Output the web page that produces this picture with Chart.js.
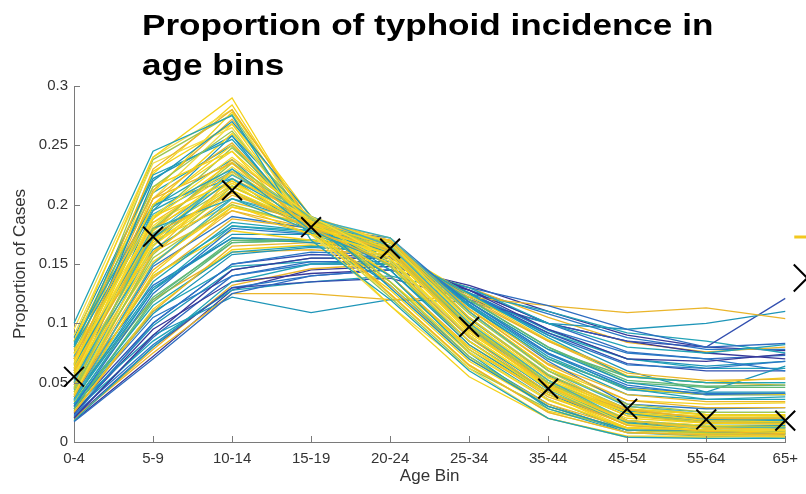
<!DOCTYPE html>
<html>
<head>
<meta charset="utf-8">
<script src="https://cdn.jsdelivr.net/npm/chart.js@4.4.1/dist/chart.umd.min.js"></script>
<style>
  html, body { margin: 0; padding: 0; background: #fff; overflow: hidden; }
  #wrap { position: relative; width: 806px; height: 494px; }
  #chartTitle {
    position: absolute; left: 142px; top: 5px;
    font: bold 30px "Liberation Sans", Arial, sans-serif; line-height: 40px;
    color: #000; white-space: nowrap;
    transform: scaleX(1.17); transform-origin: 0 0;
  }
</style>
</head>
<body>
<div id="wrap">
  <canvas id="ageChart" width="806" height="494"></canvas>
  <div id="chartTitle">Proportion of typhoid incidence in<br>age bins</div>
</div>
<script>
  // age bins on the x axis
  var ageBins = ["0-4", "5-9", "10-14", "15-19", "20-24", "25-34", "35-44", "45-54", "55-64", "65+"];

  // y ticks
  var yTicks = [0, 0.05, 0.1, 0.15, 0.2, 0.25, 0.3];
  var yTickLabels = ["0", "0.05", "0.1", "0.15", "0.2", "0.25", "0.3"];

  // the black X markers
  var meanProportion = [0.055, 0.173, 0.212, 0.181, 0.163, 0.097, 0.045, 0.028, 0.019, 0.018];

  var runsUpper = [
    [0.100, 0.245, 0.275, 0.170, 0.120, 0.060, 0.020, 0.004, 0.003, 0.003],
    [0.085, 0.240, 0.290, 0.180, 0.115, 0.055, 0.020, 0.005, 0.005, 0.005],
    [0.070, 0.230, 0.280, 0.185, 0.125, 0.065, 0.025, 0.008, 0.006, 0.006],
    [0.060, 0.220, 0.270, 0.190, 0.130, 0.070, 0.030, 0.010, 0.010, 0.010],
    [0.090, 0.235, 0.265, 0.175, 0.125, 0.065, 0.025, 0.008, 0.006, 0.004],
    [0.075, 0.215, 0.262, 0.185, 0.135, 0.072, 0.030, 0.010, 0.008, 0.008],
    [0.050, 0.210, 0.278, 0.190, 0.135, 0.075, 0.035, 0.012, 0.008, 0.007],
    [0.080, 0.225, 0.255, 0.180, 0.140, 0.075, 0.028, 0.008, 0.005, 0.004],
    [0.085, 0.215, 0.245, 0.175, 0.135, 0.080, 0.040, 0.010, 0.008, 0.007],
    [0.062, 0.205, 0.252, 0.182, 0.140, 0.080, 0.038, 0.015, 0.013, 0.013],
    [0.048, 0.195, 0.258, 0.188, 0.145, 0.082, 0.040, 0.016, 0.014, 0.014],
    [0.095, 0.240, 0.280, 0.175, 0.115, 0.062, 0.020, 0.004, 0.004, 0.005],
    [0.058, 0.188, 0.248, 0.186, 0.148, 0.085, 0.042, 0.017, 0.014, 0.014],
    [0.056, 0.200, 0.260, 0.187, 0.140, 0.078, 0.040, 0.015, 0.012, 0.012],
    [0.072, 0.198, 0.238, 0.180, 0.145, 0.085, 0.042, 0.016, 0.012, 0.012],
    [0.078, 0.228, 0.268, 0.178, 0.128, 0.068, 0.030, 0.010, 0.007, 0.006],
    [0.066, 0.212, 0.272, 0.186, 0.132, 0.070, 0.032, 0.012, 0.009, 0.009],
    [0.088, 0.222, 0.258, 0.176, 0.132, 0.072, 0.032, 0.008, 0.006, 0.006],
    [0.054, 0.205, 0.268, 0.190, 0.140, 0.076, 0.036, 0.012, 0.010, 0.009],
    [0.070, 0.238, 0.276, 0.180, 0.122, 0.062, 0.028, 0.010, 0.007, 0.007],
    [0.060, 0.198, 0.250, 0.188, 0.148, 0.082, 0.042, 0.014, 0.010, 0.008],
    [0.082, 0.210, 0.250, 0.180, 0.140, 0.078, 0.036, 0.010, 0.008, 0.006],
    [0.064, 0.226, 0.284, 0.182, 0.124, 0.064, 0.026, 0.012, 0.009, 0.009]
  ];

  var runsMiddle = [
    [0.065, 0.200, 0.245, 0.185, 0.150, 0.085, 0.040, 0.012, 0.010, 0.008],
    [0.070, 0.205, 0.235, 0.180, 0.150, 0.088, 0.042, 0.014, 0.009, 0.007],
    [0.055, 0.190, 0.240, 0.190, 0.155, 0.090, 0.045, 0.015, 0.010, 0.010],
    [0.080, 0.195, 0.230, 0.178, 0.150, 0.088, 0.045, 0.016, 0.010, 0.008],
    [0.060, 0.185, 0.228, 0.185, 0.160, 0.095, 0.047, 0.018, 0.012, 0.010],
    [0.045, 0.180, 0.235, 0.188, 0.160, 0.098, 0.050, 0.018, 0.013, 0.013],
    [0.075, 0.190, 0.220, 0.182, 0.158, 0.092, 0.048, 0.016, 0.010, 0.009],
    [0.050, 0.175, 0.225, 0.190, 0.165, 0.100, 0.052, 0.018, 0.013, 0.012],
    [0.055, 0.170, 0.215, 0.185, 0.165, 0.100, 0.050, 0.025, 0.018, 0.017],
    [0.060, 0.175, 0.210, 0.180, 0.162, 0.098, 0.048, 0.027, 0.020, 0.020],
    [0.040, 0.165, 0.218, 0.188, 0.168, 0.102, 0.052, 0.025, 0.021, 0.021],
    [0.065, 0.180, 0.205, 0.178, 0.160, 0.097, 0.050, 0.026, 0.020, 0.019],
    [0.050, 0.160, 0.208, 0.185, 0.170, 0.105, 0.055, 0.028, 0.020, 0.019],
    [0.045, 0.155, 0.200, 0.182, 0.168, 0.108, 0.060, 0.032, 0.025, 0.025],
    [0.058, 0.168, 0.212, 0.183, 0.163, 0.100, 0.047, 0.025, 0.022, 0.022],
    [0.035, 0.150, 0.205, 0.188, 0.172, 0.110, 0.060, 0.030, 0.025, 0.025],
    [0.070, 0.170, 0.200, 0.175, 0.160, 0.100, 0.052, 0.028, 0.023, 0.022],
    [0.040, 0.145, 0.195, 0.180, 0.170, 0.112, 0.065, 0.035, 0.029, 0.029],
    [0.068, 0.182, 0.232, 0.186, 0.152, 0.090, 0.045, 0.018, 0.014, 0.013],
    [0.052, 0.172, 0.222, 0.185, 0.160, 0.098, 0.052, 0.024, 0.018, 0.017],
    [0.078, 0.160, 0.195, 0.175, 0.165, 0.110, 0.060, 0.025, 0.017, 0.015],
    [0.042, 0.158, 0.215, 0.185, 0.165, 0.105, 0.057, 0.028, 0.023, 0.022],
    [0.066, 0.178, 0.226, 0.182, 0.157, 0.094, 0.046, 0.020, 0.016, 0.015],
    [0.044, 0.165, 0.230, 0.190, 0.160, 0.095, 0.050, 0.025, 0.020, 0.021],
    [0.062, 0.188, 0.236, 0.184, 0.154, 0.090, 0.046, 0.018, 0.012, 0.010],
    [0.048, 0.178, 0.238, 0.190, 0.160, 0.094, 0.048, 0.018, 0.014, 0.012],
    [0.074, 0.185, 0.218, 0.178, 0.158, 0.096, 0.050, 0.018, 0.012, 0.011],
    [0.056, 0.162, 0.205, 0.184, 0.168, 0.104, 0.056, 0.028, 0.019, 0.018],
    [0.038, 0.160, 0.222, 0.190, 0.168, 0.104, 0.056, 0.024, 0.019, 0.019],
    [0.066, 0.172, 0.212, 0.180, 0.162, 0.100, 0.052, 0.024, 0.016, 0.016],
    [0.050, 0.152, 0.198, 0.182, 0.170, 0.110, 0.062, 0.030, 0.023, 0.023],
    [0.072, 0.192, 0.228, 0.180, 0.154, 0.090, 0.044, 0.018, 0.012, 0.010],
    [0.046, 0.170, 0.228, 0.188, 0.162, 0.098, 0.050, 0.022, 0.018, 0.018],
    [0.058, 0.180, 0.220, 0.182, 0.160, 0.096, 0.050, 0.022, 0.016, 0.016],
    [0.052, 0.166, 0.210, 0.184, 0.166, 0.102, 0.054, 0.026, 0.020, 0.020],
    [0.084, 0.200, 0.222, 0.176, 0.152, 0.090, 0.044, 0.016, 0.009, 0.007],
    [0.042, 0.150, 0.202, 0.186, 0.172, 0.110, 0.062, 0.030, 0.023, 0.023],
    [0.062, 0.176, 0.216, 0.182, 0.160, 0.098, 0.050, 0.024, 0.016, 0.016]
  ];

  var runsLower = [
    [0.035, 0.135, 0.185, 0.178, 0.165, 0.115, 0.070, 0.045, 0.036, 0.036],
    [0.030, 0.125, 0.180, 0.175, 0.168, 0.118, 0.075, 0.048, 0.040, 0.041],
    [0.045, 0.140, 0.178, 0.170, 0.160, 0.112, 0.070, 0.045, 0.040, 0.040],
    [0.028, 0.120, 0.170, 0.170, 0.165, 0.120, 0.080, 0.052, 0.047, 0.048],
    [0.038, 0.130, 0.172, 0.168, 0.162, 0.118, 0.078, 0.050, 0.042, 0.042],
    [0.025, 0.110, 0.165, 0.168, 0.162, 0.122, 0.085, 0.058, 0.052, 0.053],
    [0.032, 0.115, 0.160, 0.165, 0.160, 0.125, 0.088, 0.055, 0.050, 0.050],
    [0.038, 0.148, 0.190, 0.180, 0.172, 0.115, 0.068, 0.032, 0.028, 0.029],
    [0.034, 0.142, 0.198, 0.184, 0.170, 0.110, 0.062, 0.035, 0.032, 0.033],
    [0.028, 0.118, 0.168, 0.170, 0.165, 0.118, 0.078, 0.055, 0.050, 0.050],
    [0.036, 0.128, 0.175, 0.175, 0.168, 0.118, 0.075, 0.045, 0.040, 0.040],
    [0.040, 0.138, 0.188, 0.180, 0.168, 0.112, 0.066, 0.040, 0.034, 0.034],
    [0.032, 0.128, 0.182, 0.178, 0.168, 0.116, 0.072, 0.044, 0.040, 0.040],
    [0.046, 0.132, 0.172, 0.170, 0.162, 0.116, 0.074, 0.046, 0.041, 0.041],
    [0.026, 0.112, 0.162, 0.166, 0.164, 0.124, 0.086, 0.056, 0.050, 0.054],
    [0.034, 0.122, 0.168, 0.170, 0.164, 0.120, 0.080, 0.050, 0.046, 0.046],
    [0.030, 0.108, 0.158, 0.164, 0.160, 0.124, 0.090, 0.060, 0.042, 0.064],
    [0.042, 0.120, 0.160, 0.162, 0.158, 0.120, 0.085, 0.055, 0.050, 0.048],
    [0.036, 0.140, 0.182, 0.176, 0.168, 0.114, 0.070, 0.040, 0.036, 0.038]
  ];

  var runsFlat = [
    [0.022, 0.100, 0.150, 0.160, 0.158, 0.125, 0.090, 0.065, 0.062, 0.068],
    [0.020, 0.090, 0.145, 0.155, 0.155, 0.128, 0.095, 0.070, 0.068, 0.074],
    [0.018, 0.080, 0.135, 0.150, 0.150, 0.130, 0.100, 0.080, 0.075, 0.082],
    [0.017, 0.070, 0.125, 0.140, 0.145, 0.130, 0.115, 0.095, 0.080, 0.083],
    [0.020, 0.075, 0.125, 0.125, 0.120, 0.122, 0.115, 0.109, 0.113, 0.104],
    [0.030, 0.090, 0.122, 0.109, 0.120, 0.118, 0.100, 0.095, 0.100, 0.110],
    [0.020, 0.080, 0.130, 0.135, 0.138, 0.120, 0.100, 0.085, 0.080, 0.121],
    [0.030, 0.105, 0.140, 0.150, 0.150, 0.125, 0.095, 0.075, 0.070, 0.060],
    [0.024, 0.095, 0.135, 0.142, 0.145, 0.128, 0.100, 0.085, 0.075, 0.070],
    [0.026, 0.085, 0.128, 0.135, 0.140, 0.125, 0.110, 0.092, 0.085, 0.075],
    [0.021, 0.088, 0.140, 0.152, 0.152, 0.128, 0.100, 0.076, 0.070, 0.073],
    [0.019, 0.078, 0.132, 0.146, 0.150, 0.130, 0.105, 0.084, 0.076, 0.080],
    [0.025, 0.098, 0.145, 0.155, 0.155, 0.126, 0.094, 0.070, 0.064, 0.068],
    [0.028, 0.100, 0.150, 0.158, 0.156, 0.125, 0.092, 0.066, 0.060, 0.060],
    [0.023, 0.082, 0.130, 0.140, 0.145, 0.128, 0.108, 0.088, 0.078, 0.078],
    [0.018, 0.072, 0.128, 0.145, 0.148, 0.132, 0.110, 0.090, 0.080, 0.077],
    [0.032, 0.110, 0.148, 0.152, 0.150, 0.122, 0.092, 0.070, 0.062, 0.062]
  ];

  // line colours (parula-ish)
  var colorsUpper = ["#22a3b7", "#f5d21c", "#eab52a", "#1e95b8", "#f2dc48", "#9cc653", "#f5d21c"];
  var colorsMiddle = ["#f5d21c", "#eab52a", "#f7dc2e", "#2aa3b6", "#f0c22a", "#a8c84a", "#f5d21c", "#3bb0c2"];
  var colorsLower = ["#22a3b7", "#2a78c6", "#f5d21c", "#5fb878", "#1e95b8", "#eab52a"];
  var colorsFlat = ["#2a78c6", "#38399a", "#22a3b7", "#2e6cc0", "#eab52a", "#1e95b8", "#3350b0"];

  var axisColor = "#7a7a7a";
  var labelColor = "#333333";
  var fontFamily = "'Liberation Sans', Arial, sans-serif";

  function toDatasets(runs, colors) {
    return runs.map(function (values, i) {
      return {
        data: values,
        borderColor: colors[i % colors.length],
        borderWidth: 1.3,
        pointRadius: 0,
        fill: false,
        tension: 0
      };
    });
  }

  // first dataset is drawn on top
  var datasets = [{
    data: meanProportion,
    showLine: false,
    pointStyle: "crossRot",
    pointRadius: 14,
    borderColor: "#000",
    backgroundColor: "#000",
    borderWidth: 2,
    clip: false
  }]
    .concat(toDatasets(runsMiddle, colorsMiddle))
    .concat(toDatasets(runsUpper, colorsUpper))
    .concat(toDatasets(runsLower, colorsLower))
    .concat(toDatasets(runsFlat, colorsFlat));

  // MATLAB style tick marks pointing into the plot
  var inwardTicks = {
    id: "inwardTicks",
    afterDatasetsDraw: function (chart) {
      var ctx = chart.ctx, x = chart.scales.x, y = chart.scales.y;
      ctx.save();
      ctx.strokeStyle = axisColor;
      ctx.lineWidth = 1;
      ctx.beginPath();
      x.ticks.forEach(function (t, i) {
        var px = Math.round(x.getPixelForTick(i)) + 0.5;
        ctx.moveTo(px, x.top);
        ctx.lineTo(px, x.top - 6);
      });
      y.ticks.forEach(function (t, i) {
        var py = Math.round(y.getPixelForTick(i)) + 0.5;
        ctx.moveTo(y.right, py);
        ctx.lineTo(y.right + 6, py);
      });
      ctx.stroke();
      ctx.restore();
    }
  };

  // the legend box is cut off at the right edge in the original
  var legendStub = {
    id: "legendStub",
    afterDraw: function (chart) {
      var ctx = chart.ctx, area = chart.chartArea;
      var x0 = area.right + 9;
      ctx.save();
      ctx.strokeStyle = "#f2c81f";
      ctx.lineWidth = 3;
      ctx.beginPath();
      ctx.moveTo(x0, area.top + 151);
      ctx.lineTo(x0 + 30, area.top + 151);
      ctx.stroke();
      ctx.strokeStyle = "#000";
      ctx.lineWidth = 2;
      var cx = x0 + 13, cy = area.top + 192, h = 13.5;
      ctx.beginPath();
      ctx.moveTo(cx - h, cy - h); ctx.lineTo(cx + h, cy + h);
      ctx.moveTo(cx - h, cy + h); ctx.lineTo(cx + h, cy - h);
      ctx.stroke();
      ctx.restore();
    }
  };

  var ageChart = new Chart(document.getElementById("ageChart").getContext("2d"), {
    type: "line",
    data: { labels: ageBins, datasets: datasets },
    plugins: [inwardTicks, legendStub],
    options: {
      responsive: false,
      animation: false,
      events: [],
      layout: { padding: { left: 0, right: 16, top: 86, bottom: 0 } },
      plugins: { legend: { display: false }, tooltip: { enabled: false }, title: { display: false } },
      scales: {
        x: {
          offset: false,
          grid: { display: false, drawTicks: false },
          border: { display: true, color: axisColor },
          ticks: { color: labelColor, font: { family: fontFamily, size: 15 }, padding: 8, maxRotation: 0, autoSkip: false },
          title: { display: true, text: "Age Bin", color: labelColor, font: { family: fontFamily, size: 17 }, padding: { top: 0, bottom: 7 } },
          afterFit: function (scale) { scale.height = 52; }
        },
        y: {
          min: 0,
          max: 0.3,
          afterBuildTicks: function (scale) {
            scale.ticks = yTicks.map(function (v) { return { value: v }; });
          },
          grid: { display: false, drawTicks: false },
          border: { display: true, color: axisColor },
          ticks: {
            color: labelColor, font: { family: fontFamily, size: 15 }, padding: 6,
            callback: function (value, index) { return yTickLabels[index]; }
          },
          title: { display: true, text: "Proportion of Cases", color: labelColor, font: { family: fontFamily, size: 17 }, padding: { top: 10, bottom: 0 } },
          afterFit: function (scale) { scale.width = 74; }
        }
      }
    }
  });
</script>
</body>
</html>
